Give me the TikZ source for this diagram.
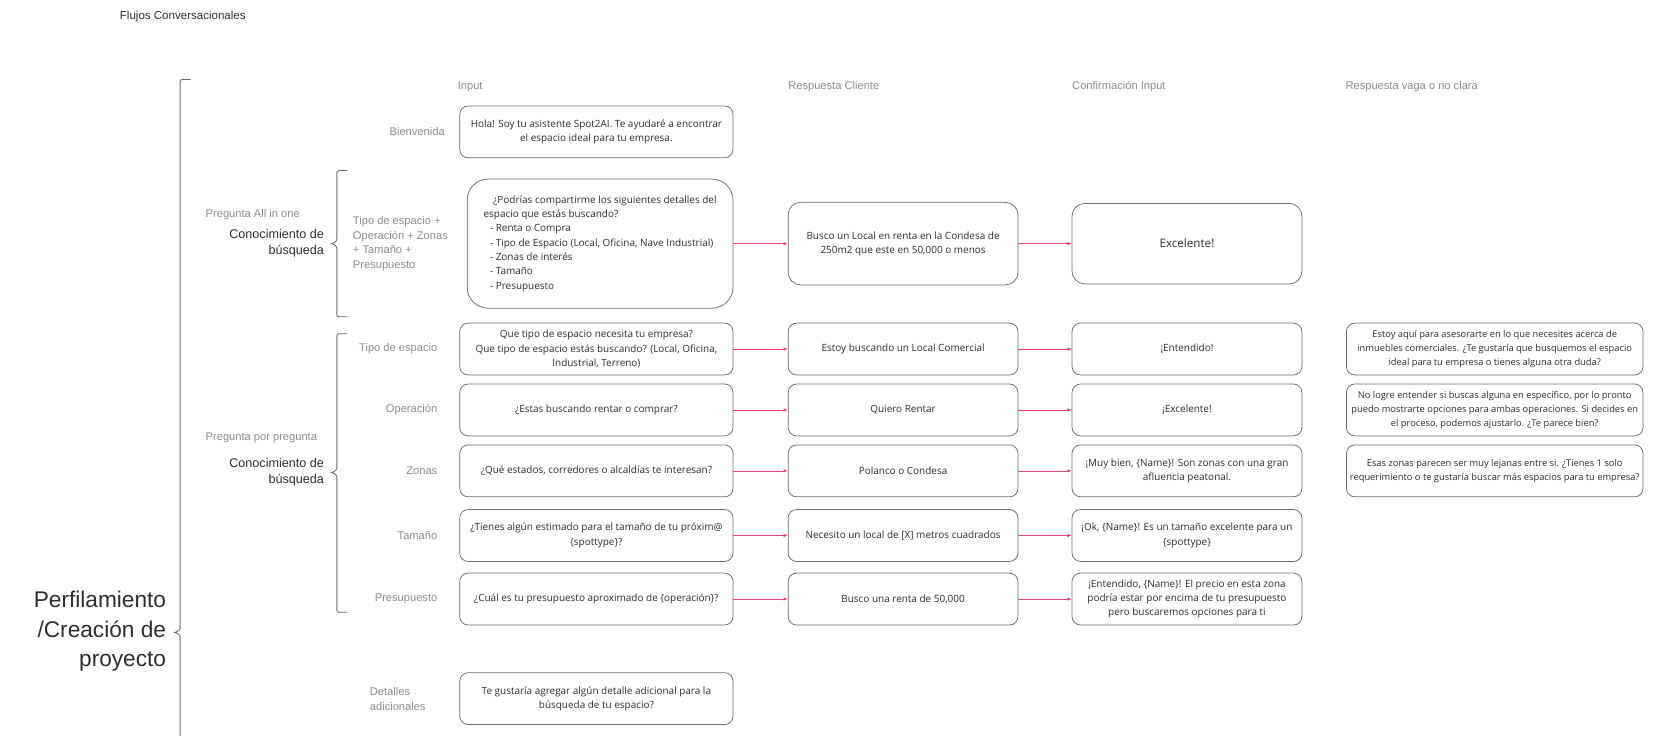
\documentclass[tikz,border=0pt]{standalone}
\usepackage{fontspec}
\usetikzlibrary{arrows.meta}
\newfontfamily\cajafont{Open Sans}
\newfontfamily\etiqfont{Liberation Sans}
\definecolor{borde}{HTML}{6B6B6B}
\definecolor{gris}{HTML}{8C8C8C}
\definecolor{tinta}{HTML}{2E2E2E}
\definecolor{rosa}{HTML}{E2447C}
% llave: x, y arriba, y punta, y abajo
\newcommand{\llave}[4]{%
  \draw[linea] (#1+10,#2) -- (#1,#2) -- (#1,#3-6)
    .. controls (#1,#3-2) and (#1-4,#3) .. (#1-7,#3)
    .. controls (#1-4,#3) and (#1,#3+2) .. (#1,#3+6)
    -- (#1,#4) -- (#1+10,#4);}

\begin{document}
\begin{tikzpicture}[x=1pt,y=-1pt,
    caja/.style={draw=borde,rounded corners=8pt,line width=0.7pt,align=center,%
                 text=tinta,font=\cajafont\fontsize{9.4}{13.5}\selectfont,%
                 minimum height=49pt,inner sep=2pt},
    col1/.style={caja,minimum width=258pt},
    col2/.style={caja,minimum width=217pt},
    vaga/.style={caja,minimum width=280pt,font=\cajafont\fontsize{8.8}{13}\selectfont},
    etiq/.style={text=gris,font=\etiqfont\fontsize{10.5}{14}\selectfont,inner sep=0pt},
    grupo/.style={text=tinta,align=right,font=\etiqfont\fontsize{11.9}{15}\selectfont,inner sep=0pt},
    flecha/.style={draw=rosa,line width=0.6pt,-{Latex[length=4pt,width=3.2pt]}},
    linea/.style={draw=borde,line width=0.8pt,rounded corners=2pt}
]
\useasboundingbox (0,0) rectangle (1568,694);

\node[anchor=west,inner sep=0pt,text=tinta,font=\etiqfont\fontsize{10.9}{13}\selectfont]
  (titulo) at (113,16) {Flujos Conversacionales};

% encabezados
\node[etiq,anchor=west] (hInput) at (432,82) {Input};
\node[etiq,anchor=west] (hCliente) at (744,82) {Respuesta Cliente};
\node[etiq,anchor=west] (hConf) at (1012,82) {Confirmación Input};
\node[etiq,anchor=west] (hVaga) at (1270,82) {Respuesta vaga o no clara};

% llaves
\llave{170}{75}{597}{710}
\llave{318}{161}{230}{299}
\llave{318}{315}{446}{578}

\node[anchor=east,align=right,inner sep=0pt,text=tinta,%
      font=\etiqfont\fontsize{21.4}{28}\selectfont] (perfil) at (157,596)
  {Perfilamiento\\/Creación de\\proyecto};

\node[etiq,anchor=west] (gAll) at (194,203) {Pregunta All in one};
\node[grupo,anchor=east] (cAll) at (306,230) {Conocimiento de\\búsqueda};
\node[etiq,anchor=west] (gPor) at (194,413) {Pregunta por pregunta};
\node[grupo,anchor=east] (cPor) at (306,446) {Conocimiento de\\búsqueda};

% etiquetas de filas
\node[etiq,anchor=east] (lBien) at (420,124.5) {Bienvenida};
\node[etiq,anchor=west,align=left] (lAll) at (333,230)
  {Tipo de espacio +\\Operación + Zonas\\+ Tamaño +\\Presupuesto};
\node[etiq,anchor=east] (lTipo) at (413,329.5) {Tipo de espacio};
\node[etiq,anchor=east] (lOper) at (413,387) {Operación};
\node[etiq,anchor=east] (lZona) at (413,444.5) {Zonas};
\node[etiq,anchor=east] (lTam) at (413,505.5) {Tamaño};
\node[etiq,anchor=east] (lPres) at (413,565.5) {Presupuesto};
\node[etiq,anchor=west,align=left] (lDet) at (349,660) {Detalles\\adicionales};

% columna Input
\node[col1] (inBien) at (563,124.5)
  {Hola! Soy tu asistente Spot2AI. Te ayudaré a encontrar\\el espacio ideal para tu empresa.};
\node[caja,rounded corners=20pt,minimum width=251pt,minimum height=122pt,align=left] (inAll) at (566.5,230)
  {\hspace*{9pt}¿Podrías compartirme los siguientes detalles del\\
   espacio que estás buscando?\\
   \hspace*{6pt}- Renta o Compra\\
   \hspace*{6pt}- Tipo de Espacio (Local, Oficina, Nave Industrial)\\
   \hspace*{6pt}- Zonas de interés\\
   \hspace*{6pt}- Tamaño\\
   \hspace*{6pt}- Presupuesto};
\node[col1] (inTipo) at (563,329.5)
  {Que tipo de espacio necesita tu empresa?\\Que tipo de espacio estás buscando? (Local, Oficina,\\Industrial, Terreno)};
\node[col1] (inOper) at (563,387) {¿Estas buscando rentar o comprar?};
\node[col1] (inZona) at (563,444.5) {¿Qué estados, corredores o alcaldías te interesan?};
\node[col1] (inTam) at (563,505.5)
  {¿Tienes algún estimado para el tamaño de tu próxim@\\\{spottype\}?};
\node[col1] (inPres) at (563,565.5) {¿Cuál es tu presupuesto aproximado de \{operación\}?};
\node[col1] (inDet) at (563,659.5)
  {Te gustaría agregar algún detalle adicional para la\\búsqueda de tu espacio?};

% columna Respuesta Cliente
\node[col2,rounded corners=12pt,minimum height=78pt] (clAll) at (852.5,230)
  {Busco un Local en renta en la Condesa de\\250m2 que este en 50,000 o menos};
\node[col2] (clTipo) at (852.5,329.5) {Estoy buscando un Local Comercial};
\node[col2] (clOper) at (852.5,387) {Quiero Rentar};
\node[col2] (clZona) at (852.5,444.5) {Polanco o Condesa};
\node[col2] (clTam) at (852.5,505.5) {Necesito un local de [X] metros cuadrados};
\node[col2] (clPres) at (852.5,565.5) {Busco una renta de 50,000};

% columna Confirmacion
\node[col2,rounded corners=12pt,minimum height=76pt,font=\cajafont\fontsize{11}{13}\selectfont] (coAll) at (1120.5,230) {Excelente!};
\node[col2] (coTipo) at (1120.5,329.5) {¡Entendido!};
\node[col2] (coOper) at (1120.5,387) {¡Excelente!};
\node[col2] (coZona) at (1120.5,444.5)
  {¡Muy bien, \{Name\}! Son zonas con una gran\\afluencia peatonal.};
\node[col2] (coTam) at (1120.5,505.5)
  {¡Ok, \{Name\}! Es un tamaño excelente para un\\\{spottype\}};
\node[col2] (coPres) at (1120.5,565.5)
  {¡Entendido, \{Name\}! El precio en esta zona\\podría estar por encima de tu presupuesto\\pero buscaremos opciones para ti};

% columna Respuesta vaga
\node[vaga] (vaTipo) at (1411,329.5)
  {Estoy aquí para asesorarte en lo que necesites acerca de\\inmuebles comerciales. ¿Te gustaría que busquemos el espacio\\ideal para tu empresa o tienes alguna otra duda?};
\node[vaga] (vaOper) at (1411,387)
  {No logre entender si buscas alguna en específico, por lo pronto\\puedo mostrarte opciones para ambas operaciones. Si decides en\\el proceso, podemos ajustarlo. ¿Te parece bien?};
\node[vaga] (vaZona) at (1411,444.5)
  {Esas zonas parecen ser muy lejanas entre si. ¿Tienes 1 solo\\requerimiento o te gustaría buscar más espacios para tu empresa?};

% flechas
\draw[flecha] (inAll.east) -- (clAll.west);
\draw[flecha] (clAll.east) -- (coAll.west);
\foreach \f in {Tipo,Oper,Zona,Tam,Pres} {
  \draw[flecha] (in\f.east) -- (cl\f.west);
  \draw[flecha] (cl\f.east) -- (co\f.west);
}

\end{tikzpicture}
\end{document}
